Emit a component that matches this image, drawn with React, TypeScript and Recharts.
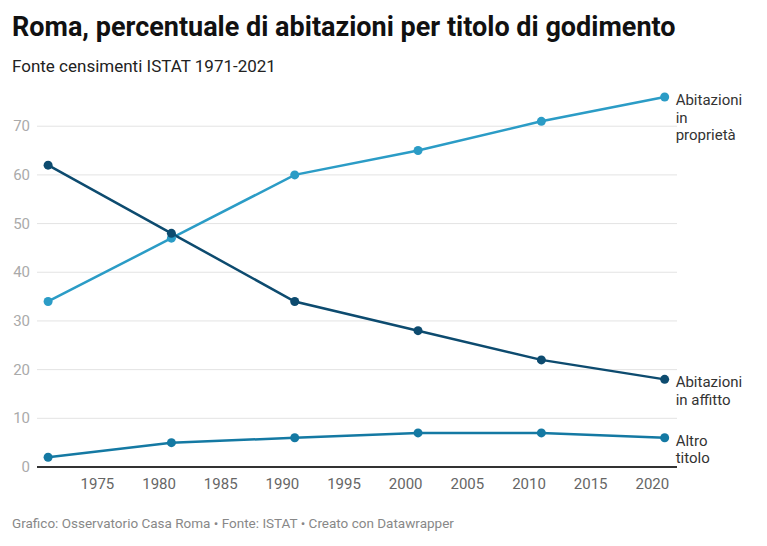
import React from 'react'
import { LineChart, Line, XAxis, YAxis, CartesianGrid } from 'recharts'

const years = [1971, 1981, 1991, 2001, 2011, 2021]
const proprieta = [34, 47, 60, 65, 71, 76]
const affitto = [62, 48, 34, 28, 22, 18]
const altro = [2, 5, 6, 7, 7, 6]

const xTicks = [1975, 1980, 1985, 1990, 1995, 2000, 2005, 2010, 2015, 2020]
const yTicks = [0, 10, 20, 30, 40, 50, 60, 70]

const data = years.map((year, i) => ({
  year,
  proprieta: proprieta[i],
  affitto: affitto[i],
  altro: altro[i],
}))

const FONT = 'Roboto, "Noto Sans", sans-serif'

const series = [
  { key: 'proprieta', color: '#2b9cc6', label: ['Abitazioni', 'in', 'proprietà'] },
  { key: 'affitto', color: '#0d4b6f', label: ['Abitazioni', 'in affitto'] },
  { key: 'altro', color: '#1479a3', label: ['Altro', 'titolo'] },
]

function endLabel(lines: string[]) {
  return (props: any) => {
    const { x, y, index } = props
    if (index !== years.length - 1) return null
    return (
      <text x={x + 11} y={y + 8} fontSize={15} fill="#333" fontFamily={FONT}>
        {lines.map((l, i) => (
          <tspan key={i} x={x + 11} dy={i === 0 ? 0 : 17.5}>{l}</tspan>
        ))}
      </text>
    )
  }
}

const YTick = (props: any) => {
  const { y, payload } = props
  return (
    <text x={30} y={y + 5} textAnchor="end" fontSize={15} fill="#aaa" fontFamily={FONT}>
      {payload.value}
    </text>
  )
}

export default function App() {
  return (
    <div style={{ position: 'absolute', left: 0, top: 0, width: 767, height: 546, background: '#fff', fontFamily: FONT }}>
      <div style={{ position: 'absolute', left: 12, top: 11, fontSize: 27, fontWeight: 700, color: '#111', whiteSpace: 'nowrap' }}>
        Roma, percentuale di abitazioni per titolo di godimento
      </div>
      <div style={{ position: 'absolute', left: 12, top: 56, fontSize: 17, color: '#222', whiteSpace: 'nowrap' }}>
        Fonte censimenti ISTAT 1971-2021
      </div>
      <div style={{ position: 'absolute', left: 0, top: 0 }}>
        <LineChart width={767} height={546} data={data} margin={{ top: 97, right: 90, bottom: 49, left: 0 }}>
          <CartesianGrid vertical={false} stroke="#e3e3e3" horizontalValues={yTicks} />
          <XAxis
            dataKey="year"
            type="number"
            domain={[1970.1, 2022]}
            ticks={xTicks}
            tickLine={false}
            axisLine={{ stroke: '#333', strokeWidth: 2 }}
            tick={{ fontSize: 15, fill: '#666', fontFamily: FONT }}
            tickMargin={5}
            height={30}
          />
          <YAxis
            type="number"
            domain={[0, 76]}
            ticks={yTicks}
            width={37}
            tickLine={false}
            axisLine={false}
            tick={<YTick />}
          />
          {series.map((s) => (
            <Line
              key={s.key}
              dataKey={s.key}
              type="linear"
              stroke={s.color}
              strokeWidth={2.5}
              dot={{ r: 4.5, fill: s.color, stroke: s.color, strokeWidth: 0 }}
              activeDot={false}
              label={endLabel(s.label)}
              isAnimationActive={false}
            />
          ))}
        </LineChart>
      </div>
      <div style={{ position: 'absolute', left: 12, top: 515, fontSize: 13.5, color: '#888', whiteSpace: 'nowrap' }}>
        Grafico: Osservatorio Casa Roma • Fonte: ISTAT • Creato con Datawrapper
      </div>
    </div>
  )
}
